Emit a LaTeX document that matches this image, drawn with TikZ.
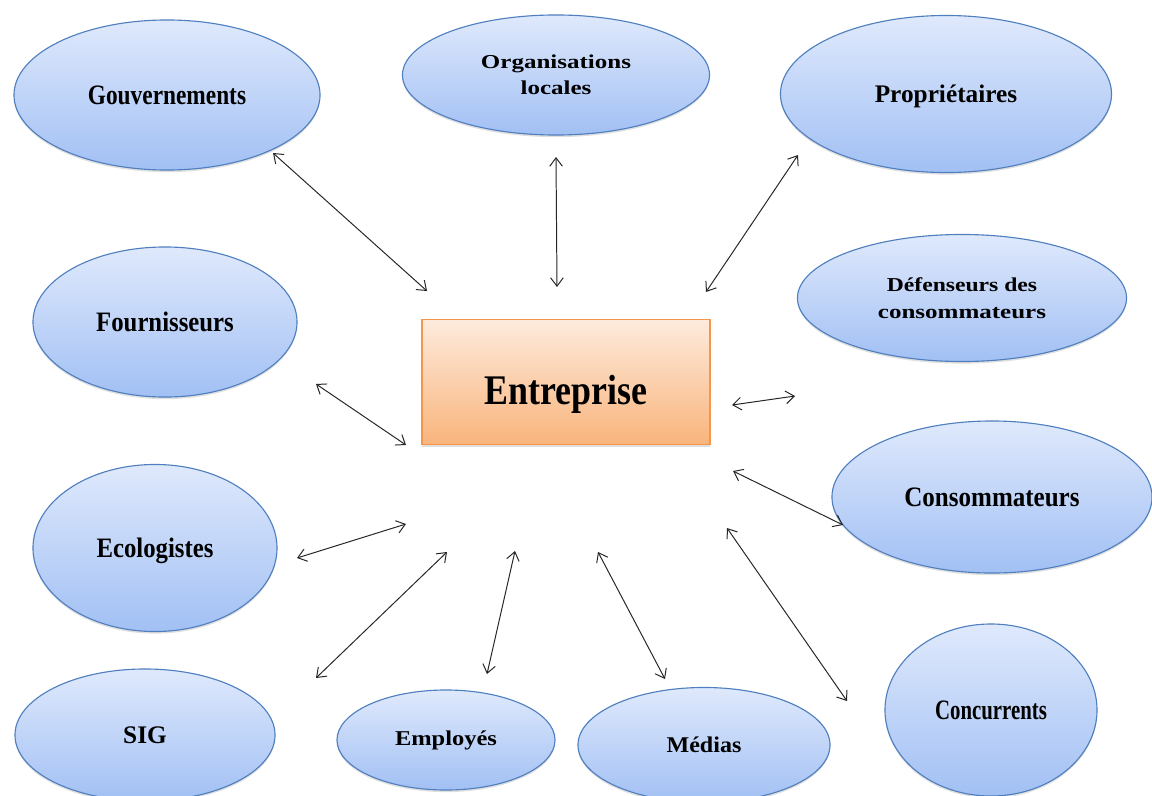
\documentclass[tikz,border=0pt]{standalone}
\usepackage{fontspec}
\setmainfont{Liberation Serif}
\usetikzlibrary{shapes.geometric, shadows, arrows.meta}

\definecolor{ovtop}{HTML}{DFE9FC}
\definecolor{ovbot}{HTML}{A2C0F4}
\definecolor{ovline}{HTML}{4F7FBE}
\definecolor{boxtop}{HTML}{FDEBDD}
\definecolor{boxbot}{HTML}{F9B47C}
\definecolor{boxline}{HTML}{F5964A}

\newcommand{\serre}[2]{\scalebox{#1}[1]{#2}}

\begin{document}
\begin{tikzpicture}[x=0.025cm, y=-0.025cm, >={Straight Barb[length=6pt, width=9pt]},
  acteur/.style={ellipse, draw=ovline, line width=0.8pt, top color=ovtop, bottom color=ovbot,
    inner sep=0pt, align=center, drop shadow={opacity=0.25, shadow xshift=0pt, shadow yshift=-1.5pt}},
  lien/.style={<->, line width=0.7pt, black!85}]

\useasboundingbox (0,0) rectangle (1152,796);

\node[rectangle, draw=boxline, line width=0.8pt, top color=boxtop, bottom color=boxbot,
  minimum width=7.2cm, minimum height=3.125cm, drop shadow={opacity=0.25, shadow xshift=0pt, shadow yshift=-1.5pt},
  font=\fontsize{30}{36}\selectfont\bfseries] (ent) at (566,382) {\raisebox{-8.5pt}[\height][\depth]{\serre{0.85}{Entreprise}}};

\node[acteur, minimum width=7.65cm, minimum height=3.75cm, font=\fontsize{20}{24}\selectfont\bfseries] (gouv) at (167,95) {\serre{0.83}{Gouvernements}};
\node[acteur, minimum width=7.675cm, minimum height=3cm, font=\fontsize{14}{18.5}\selectfont\bfseries] (orgloc) at (556,75) {\serre{1.27}{Organisations}\\\serre{1.27}{locales}};
\node[acteur, minimum width=8.275cm, minimum height=3.925cm, font=\fontsize{18}{22}\selectfont\bfseries] (prop) at (946,94) {\raisebox{-2pt}[\height][\depth]{\serre{1}{Propriétaires}}};
\node[acteur, minimum width=6.6cm, minimum height=3.75cm, font=\fontsize{20}{24}\selectfont\bfseries] (fourn) at (165,322) {\serre{0.88}{Fournisseurs}};
\node[acteur, minimum width=8.225cm, minimum height=3.175cm, font=\fontsize{14}{19.2}\selectfont\bfseries] (defcons) at (962,298) {\serre{1.2}{Défenseurs des}\\\serre{1.27}{consommateurs}};
\node[acteur, minimum width=6.1cm, minimum height=4.175cm, font=\fontsize{20}{24}\selectfont\bfseries] (ecolo) at (155,548) {\raisebox{-2pt}[\height][\depth]{\serre{0.88}{Ecologistes}}};
\node[acteur, minimum width=8cm, minimum height=3.8cm, font=\fontsize{20}{24}\selectfont\bfseries] (cons) at (992,497) {\serre{0.89}{Consommateurs}};
\node[acteur, minimum width=6.5cm, minimum height=3.3cm, font=\fontsize{18}{22}\selectfont\bfseries] (sig) at (145,735) {\serre{1}{SIG}};
\node[acteur, minimum width=5.45cm, minimum height=2.5cm, font=\fontsize{15}{18}\selectfont\bfseries] (empl) at (446,740) {\serre{1.16}{Employés}};
\node[acteur, minimum width=6.3cm, minimum height=2.875cm, font=\fontsize{16}{20}\selectfont\bfseries] (medias) at (704,745) {\serre{1.07}{Médias}};
\node[acteur, minimum width=5.3cm, minimum height=4.3cm, font=\fontsize{20}{24}\selectfont\bfseries] (concur) at (991,710) {\serre{0.74}{Concurrents}};

\coordinate (gouv1) at (273,153);   \coordinate (gouv2) at (427,291);
\coordinate (org1) at (556,157);    \coordinate (org2) at (557,287);
\coordinate (prop1) at (798,155);   \coordinate (prop2) at (706,292);
\coordinate (four1) at (316,384);   \coordinate (four2) at (406,445);
\coordinate (def1) at (795,396);    \coordinate (def2) at (732,405);
\coordinate (cons1) at (843,525);   \coordinate (cons2) at (733,471);
\coordinate (eco1) at (297,558);    \coordinate (eco2) at (406,524);
\coordinate (sig1) at (316,678);    \coordinate (sig2) at (447,552);
\coordinate (emp1) at (487,674);    \coordinate (emp2) at (515,551);
\coordinate (med1) at (665,679);    \coordinate (med2) at (598,552);
\coordinate (conc1) at (847,701);   \coordinate (conc2) at (727,528);

\draw[lien] (gouv1) -- (gouv2);
\draw[lien] (org1) -- (org2);
\draw[lien] (prop1) -- (prop2);
\draw[lien] (four1) -- (four2);
\draw[lien] (def1) -- (def2);
\draw[lien] (cons1) -- (cons2);
\draw[lien] (eco1) -- (eco2);
\draw[lien] (sig1) -- (sig2);
\draw[lien] (emp1) -- (emp2);
\draw[lien] (med1) -- (med2);
\draw[lien] (conc1) -- (conc2);

\end{tikzpicture}
\end{document}
